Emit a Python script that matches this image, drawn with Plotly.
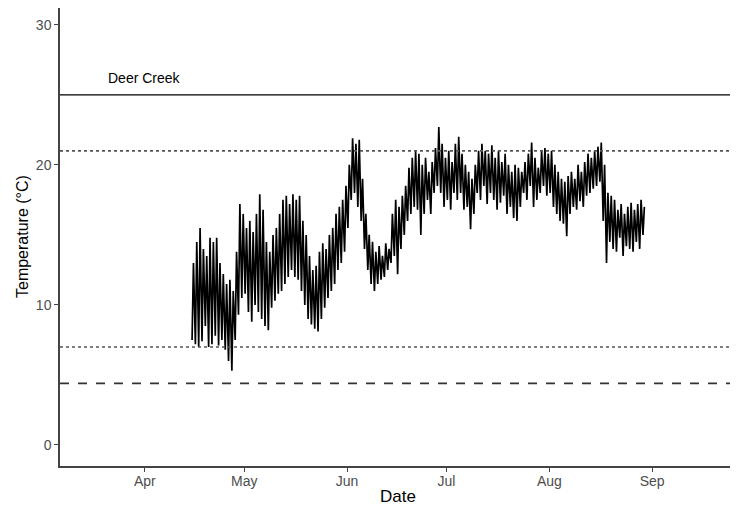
import pandas as pd
import plotly.graph_objects as go

# Daily temperature envelope (Deer Creek), Apr 15 - Aug 29
start_date = "2021-04-15"
daily_max = [13.0, 14.5, 15.5, 14.0, 13.5, 14.8, 14.5, 14.8, 13.0, 12.2,
             11.5, 11.8, 11.0, 13.8, 17.2, 16.5, 15.5, 16.0, 15.2, 16.5,
             17.9, 16.8, 14.5, 13.8, 15.0, 15.5, 16.5, 17.5, 17.8, 17.2,
             17.9, 17.5, 17.8, 16.0, 15.0, 13.5, 12.5, 12.8, 13.8, 14.4,
             14.0, 15.0, 15.5, 16.5, 17.0, 17.5, 18.5, 20.0, 21.9, 21.5,
             21.8, 19.0, 16.5, 15.0, 14.5, 13.8, 14.2, 13.5, 14.4, 14.0,
             16.5, 17.5, 17.0, 17.8, 18.5, 19.8, 20.5, 21.0, 20.8, 20.0,
             20.5, 19.5, 20.2, 21.2, 22.7, 21.5, 20.5, 21.0, 20.2, 21.5,
             22.0, 20.8, 20.0, 19.5, 19.0, 20.0, 21.0, 21.5, 21.0, 20.8,
             21.4, 20.5, 21.0, 20.2, 20.8, 20.0, 19.5, 20.0, 19.8, 19.5,
             20.2, 20.8, 21.6, 20.5, 19.8, 21.0, 21.2, 20.8, 21.0, 20.0,
             19.5, 19.0, 18.8, 19.2, 19.5, 19.0, 20.0, 19.5, 20.2, 20.8,
             20.5, 21.0, 21.3, 21.6, 20.0, 18.0, 17.8, 17.5, 16.8, 17.2,
             16.5, 17.0, 17.3, 16.8, 17.2, 17.5, 17.0]
daily_min = [7.5, 7.2, 7.0, 7.4, 8.5, 7.0, 7.2, 7.8, 7.1, 7.5,
             6.8, 6.0, 5.3, 7.5, 9.3, 10.5, 10.8, 9.5, 8.8, 10.0,
             9.5, 9.0, 8.5, 8.2, 9.8, 10.3, 10.8, 11.0, 11.5, 12.0,
             12.5, 12.0, 11.8, 11.0, 10.0, 9.0, 8.6, 8.3, 8.1, 9.0,
             9.8, 10.5, 11.0, 11.5, 12.5, 13.0, 13.8, 15.5, 17.5, 18.0,
             17.0, 16.0, 14.0, 12.5, 11.5, 11.0, 11.5, 11.8, 12.0, 12.5,
             13.0, 13.5, 12.2, 14.0, 15.0, 16.0, 16.5, 17.0, 16.8, 15.0,
             16.5, 17.5, 16.5, 18.0, 18.5, 18.0, 17.0, 17.5, 16.8, 18.0,
             17.5, 18.0, 16.8, 17.0, 15.4, 16.5, 18.0, 17.5, 18.5, 17.2,
             18.0, 17.5, 16.8, 17.3, 17.8, 16.5, 17.0, 16.2, 16.0, 17.0,
             18.0, 17.5, 18.5, 17.0, 17.5, 18.0, 18.5, 17.8, 18.0, 17.0,
             16.5, 16.0, 15.8, 14.9, 16.5, 17.0, 16.8, 17.4, 17.0, 17.8,
             18.0, 18.3, 18.5, 18.8, 16.0, 13.0, 14.5, 14.0, 13.8, 14.8,
             13.5, 14.2, 14.0, 13.8, 14.5, 14.0, 15.0]

# Reference thresholds (°C)
solid_line_y = 25.0
dotted_lines_y = [21.0, 7.0]
dashed_line_y = 4.4
site_label = "Deer Creek"
label_date = "2021-04-01"
label_y = 26.2

tick_dates = ["2021-04-01", "2021-05-01", "2021-06-01", "2021-07-01",
              "2021-08-01", "2021-09-01"]
tick_text = ["Apr", "May", "Jun", "Jul", "Aug", "Sep"]
y_ticks = [0, 10, 20, 30]

days = pd.date_range(start_date, periods=len(daily_max), freq="D")
xs, ys = [], []
for d, lo, hi in zip(days, daily_min, daily_max):
    xs.append(d + pd.Timedelta(hours=6))
    ys.append(lo)
    xs.append(d + pd.Timedelta(hours=16))
    ys.append(hi)

fig = go.Figure()
fig.add_trace(go.Scatter(x=xs, y=ys, mode="lines",
                         line=dict(color="black", width=1.7),
                         showlegend=False, hoverinfo="skip"))

fig.add_hline(y=solid_line_y, line=dict(color="black", width=1.4))
for yv in dotted_lines_y:
    fig.add_hline(y=yv, line=dict(color="#555555", width=1.6, dash="dot"))
fig.add_hline(y=dashed_line_y, line=dict(color="#333333", width=1.6, dash="dash"))

font_family = "Liberation Sans, Arial"
fig.add_annotation(x=label_date, y=label_y, text=site_label, showarrow=False,
                   font=dict(family=font_family, size=14, color="black"))
fig.add_annotation(x=0.5, y=0, xref="paper", yref="paper", text="Date",
                   showarrow=False, yanchor="middle", yshift=-30,
                   font=dict(family=font_family, size=17, color="black"))
fig.add_annotation(x=0, y=0.5, xref="paper", yref="paper",
                   text="Temperature (°C)", textangle=-90, showarrow=False,
                   xanchor="center", xshift=-38,
                   font=dict(family=font_family, size=16, color="black"))

axis_font = dict(family=font_family, size=14, color="#4d4d4d")
# page body adds an 8px offset; figure is sized to fit the 738x506 window
fig.update_layout(
    width=730, height=498,
    margin=dict(l=52, r=3, t=0, b=40),
    paper_bgcolor="white", plot_bgcolor="white",
    xaxis=dict(range=["2021-03-06 10:00", "2021-09-26"],
               tickvals=tick_dates, ticktext=tick_text,
               showgrid=False, zeroline=False, automargin=False,
               showline=True, linecolor="#444444", linewidth=1.5,
               ticks="outside", ticklen=4, tickcolor="#444444", tickwidth=1.2,
               ticklabelstandoff=-3,
               tickfont=axis_font),
    yaxis=dict(range=[-1.5, 31.2], tickvals=y_ticks,
               showgrid=False, zeroline=False, automargin=False,
               showline=True, linecolor="#444444", linewidth=1.5,
               ticks="outside", ticklen=4, tickcolor="#444444", tickwidth=1.2,
               tickfont=axis_font),
)

fig.write_html("out.html")
